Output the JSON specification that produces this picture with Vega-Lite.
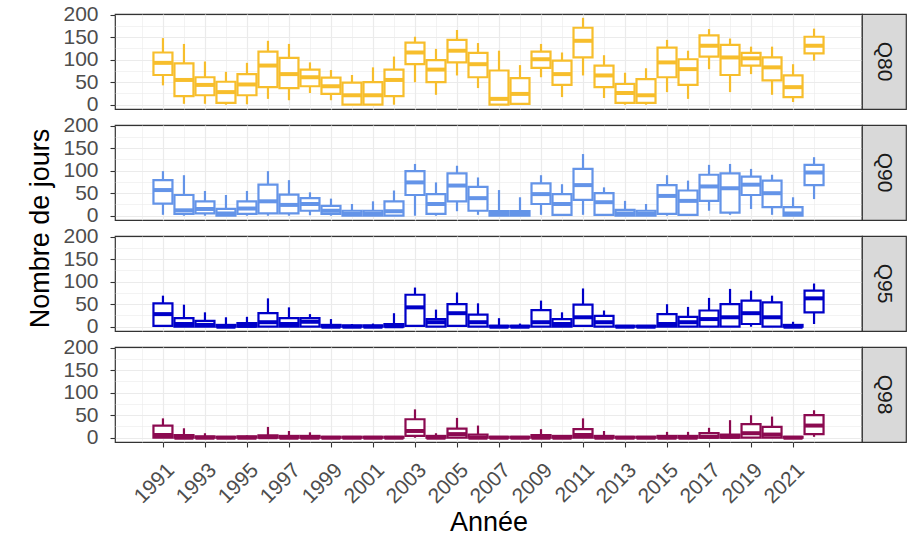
{
  "$schema": "https://vega.github.io/schema/vega-lite/v6.json",
  "padding": {"left": 26, "top": 3, "right": 5, "bottom": 2},
  "datasets": {
    "box": [
      {"q":"Q80","year":1991,"lo":43,"q1":66,"med":93,"q3":116,"hi":148},
      {"q":"Q80","year":1992,"lo":2,"q1":19,"med":55,"q3":92,"hi":135},
      {"q":"Q80","year":1993,"lo":2,"q1":21,"med":44,"q3":61,"hi":96},
      {"q":"Q80","year":1994,"lo":0,"q1":4,"med":28,"q3":51,"hi":73},
      {"q":"Q80","year":1995,"lo":1,"q1":21,"med":45,"q3":68,"hi":93},
      {"q":"Q80","year":1996,"lo":13,"q1":39,"med":87,"q3":118,"hi":142},
      {"q":"Q80","year":1997,"lo":10,"q1":37,"med":68,"q3":104,"hi":135},
      {"q":"Q80","year":1998,"lo":26,"q1":41,"med":61,"q3":78,"hi":94},
      {"q":"Q80","year":1999,"lo":10,"q1":24,"med":41,"q3":60,"hi":77},
      {"q":"Q80","year":2000,"lo":0,"q1":0,"med":21,"q3":49,"hi":66},
      {"q":"Q80","year":2001,"lo":0,"q1":0,"med":21,"q3":50,"hi":83},
      {"q":"Q80","year":2002,"lo":0,"q1":19,"med":55,"q3":78,"hi":107},
      {"q":"Q80","year":2003,"lo":50,"q1":90,"med":116,"q3":138,"hi":151},
      {"q":"Q80","year":2004,"lo":22,"q1":50,"med":78,"q3":99,"hi":124},
      {"q":"Q80","year":2005,"lo":65,"q1":94,"med":120,"q3":144,"hi":166},
      {"q":"Q80","year":2006,"lo":37,"q1":61,"med":90,"q3":115,"hi":137},
      {"q":"Q80","year":2007,"lo":0,"q1":0,"med":13,"q3":76,"hi":120},
      {"q":"Q80","year":2008,"lo":0,"q1":2,"med":24,"q3":59,"hi":88},
      {"q":"Q80","year":2009,"lo":61,"q1":82,"med":101,"q3":118,"hi":135},
      {"q":"Q80","year":2010,"lo":17,"q1":44,"med":68,"q3":98,"hi":116},
      {"q":"Q80","year":2011,"lo":65,"q1":105,"med":142,"q3":171,"hi":193},
      {"q":"Q80","year":2012,"lo":15,"q1":39,"med":65,"q3":87,"hi":110},
      {"q":"Q80","year":2013,"lo":0,"q1":4,"med":26,"q3":46,"hi":71},
      {"q":"Q80","year":2014,"lo":0,"q1":4,"med":21,"q3":57,"hi":81},
      {"q":"Q80","year":2015,"lo":28,"q1":61,"med":94,"q3":127,"hi":144},
      {"q":"Q80","year":2016,"lo":13,"q1":44,"med":79,"q3":101,"hi":120},
      {"q":"Q80","year":2017,"lo":79,"q1":107,"med":131,"q3":154,"hi":168},
      {"q":"Q80","year":2018,"lo":28,"q1":66,"med":105,"q3":133,"hi":147},
      {"q":"Q80","year":2019,"lo":68,"q1":87,"med":103,"q3":115,"hi":129},
      {"q":"Q80","year":2020,"lo":22,"q1":54,"med":83,"q3":105,"hi":129},
      {"q":"Q80","year":2021,"lo":6,"q1":17,"med":39,"q3":65,"hi":90},
      {"q":"Q80","year":2022,"lo":98,"q1":114,"med":131,"q3":151,"hi":169},

      {"q":"Q90","year":1991,"lo":2,"q1":27,"med":57,"q3":79,"hi":99},
      {"q":"Q90","year":1992,"lo":0,"q1":4,"med":12,"q3":46,"hi":90},
      {"q":"Q90","year":1993,"lo":0,"q1":5,"med":15,"q3":32,"hi":55},
      {"q":"Q90","year":1994,"lo":0,"q1":0,"med":5,"q3":15,"hi":46},
      {"q":"Q90","year":1995,"lo":0,"q1":4,"med":16,"q3":32,"hi":55},
      {"q":"Q90","year":1996,"lo":0,"q1":5,"med":32,"q3":69,"hi":99},
      {"q":"Q90","year":1997,"lo":0,"q1":5,"med":24,"q3":47,"hi":79},
      {"q":"Q90","year":1998,"lo":1,"q1":11,"med":26,"q3":39,"hi":52},
      {"q":"Q90","year":1999,"lo":0,"q1":4,"med":11,"q3":22,"hi":38},
      {"q":"Q90","year":2000,"lo":0,"q1":0,"med":4,"q3":11,"hi":26},
      {"q":"Q90","year":2001,"lo":0,"q1":0,"med":4,"q3":11,"hi":32},
      {"q":"Q90","year":2002,"lo":0,"q1":0,"med":10,"q3":32,"hi":56},
      {"q":"Q90","year":2003,"lo":0,"q1":46,"med":74,"q3":99,"hi":115},
      {"q":"Q90","year":2004,"lo":0,"q1":4,"med":26,"q3":48,"hi":74},
      {"q":"Q90","year":2005,"lo":10,"q1":32,"med":67,"q3":94,"hi":111},
      {"q":"Q90","year":2006,"lo":2,"q1":11,"med":39,"q3":64,"hi":85},
      {"q":"Q90","year":2007,"lo":0,"q1":0,"med":4,"q3":10,"hi":57},
      {"q":"Q90","year":2008,"lo":0,"q1":0,"med":4,"q3":10,"hi":41},
      {"q":"Q90","year":2009,"lo":2,"q1":26,"med":48,"q3":72,"hi":90},
      {"q":"Q90","year":2010,"lo":0,"q1":2,"med":26,"q3":48,"hi":70},
      {"q":"Q90","year":2011,"lo":2,"q1":35,"med":68,"q3":104,"hi":137},
      {"q":"Q90","year":2012,"lo":0,"q1":2,"med":30,"q3":50,"hi":63},
      {"q":"Q90","year":2013,"lo":0,"q1":0,"med":5,"q3":13,"hi":33},
      {"q":"Q90","year":2014,"lo":0,"q1":0,"med":4,"q3":11,"hi":26},
      {"q":"Q90","year":2015,"lo":0,"q1":4,"med":44,"q3":68,"hi":90},
      {"q":"Q90","year":2016,"lo":0,"q1":2,"med":33,"q3":56,"hi":78},
      {"q":"Q90","year":2017,"lo":11,"q1":33,"med":65,"q3":91,"hi":113},
      {"q":"Q90","year":2018,"lo":2,"q1":7,"med":61,"q3":94,"hi":115},
      {"q":"Q90","year":2019,"lo":15,"q1":46,"med":69,"q3":87,"hi":104},
      {"q":"Q90","year":2020,"lo":2,"q1":19,"med":50,"q3":78,"hi":91},
      {"q":"Q90","year":2021,"lo":0,"q1":0,"med":5,"q3":19,"hi":41},
      {"q":"Q90","year":2022,"lo":37,"q1":68,"med":96,"q3":113,"hi":130},

      {"q":"Q95","year":1991,"lo":0,"q1":2,"med":28,"q3":52,"hi":69},
      {"q":"Q95","year":1992,"lo":0,"q1":0,"med":6,"q3":19,"hi":49},
      {"q":"Q95","year":1993,"lo":0,"q1":0,"med":4,"q3":13,"hi":32},
      {"q":"Q95","year":1994,"lo":0,"q1":0,"med":0,"q3":4,"hi":21},
      {"q":"Q95","year":1995,"lo":0,"q1":0,"med":2,"q3":8,"hi":22},
      {"q":"Q95","year":1996,"lo":0,"q1":0,"med":10,"q3":30,"hi":63},
      {"q":"Q95","year":1997,"lo":0,"q1":0,"med":6,"q3":19,"hi":43},
      {"q":"Q95","year":1998,"lo":0,"q1":0,"med":11,"q3":19,"hi":28},
      {"q":"Q95","year":1999,"lo":0,"q1":0,"med":0,"q3":4,"hi":17},
      {"q":"Q95","year":2000,"lo":0,"q1":0,"med":0,"q3":3,"hi":6},
      {"q":"Q95","year":2001,"lo":0,"q1":0,"med":0,"q3":3,"hi":7},
      {"q":"Q95","year":2002,"lo":0,"q1":0,"med":1,"q3":6,"hi":30},
      {"q":"Q95","year":2003,"lo":0,"q1":2,"med":43,"q3":71,"hi":87},
      {"q":"Q95","year":2004,"lo":0,"q1":0,"med":10,"q3":17,"hi":38},
      {"q":"Q95","year":2005,"lo":0,"q1":2,"med":30,"q3":50,"hi":76},
      {"q":"Q95","year":2006,"lo":0,"q1":0,"med":10,"q3":27,"hi":52},
      {"q":"Q95","year":2007,"lo":0,"q1":0,"med":0,"q3":2,"hi":19},
      {"q":"Q95","year":2008,"lo":0,"q1":0,"med":0,"q3":2,"hi":7},
      {"q":"Q95","year":2009,"lo":0,"q1":0,"med":10,"q3":37,"hi":58},
      {"q":"Q95","year":2010,"lo":0,"q1":0,"med":6,"q3":17,"hi":32},
      {"q":"Q95","year":2011,"lo":0,"q1":2,"med":21,"q3":49,"hi":85},
      {"q":"Q95","year":2012,"lo":0,"q1":0,"med":10,"q3":24,"hi":36},
      {"q":"Q95","year":2013,"lo":0,"q1":0,"med":0,"q3":2,"hi":3},
      {"q":"Q95","year":2014,"lo":0,"q1":0,"med":0,"q3":2,"hi":3},
      {"q":"Q95","year":2015,"lo":0,"q1":0,"med":6,"q3":28,"hi":50},
      {"q":"Q95","year":2016,"lo":0,"q1":0,"med":10,"q3":22,"hi":44},
      {"q":"Q95","year":2017,"lo":0,"q1":0,"med":17,"q3":36,"hi":64},
      {"q":"Q95","year":2018,"lo":0,"q1":0,"med":21,"q3":50,"hi":84},
      {"q":"Q95","year":2019,"lo":0,"q1":6,"med":30,"q3":58,"hi":80},
      {"q":"Q95","year":2020,"lo":0,"q1":0,"med":21,"q3":54,"hi":69},
      {"q":"Q95","year":2021,"lo":0,"q1":0,"med":0,"q3":4,"hi":11},
      {"q":"Q95","year":2022,"lo":6,"q1":32,"med":63,"q3":80,"hi":96},

      {"q":"Q98","year":1991,"lo":0,"q1":0,"med":6,"q3":27,"hi":43},
      {"q":"Q98","year":1992,"lo":0,"q1":0,"med":0,"q3":6,"hi":21},
      {"q":"Q98","year":1993,"lo":0,"q1":0,"med":0,"q3":3,"hi":10},
      {"q":"Q98","year":1994,"lo":0,"q1":0,"med":0,"q3":2,"hi":3},
      {"q":"Q98","year":1995,"lo":0,"q1":0,"med":0,"q3":3,"hi":5},
      {"q":"Q98","year":1996,"lo":0,"q1":0,"med":1,"q3":5,"hi":24},
      {"q":"Q98","year":1997,"lo":0,"q1":0,"med":0,"q3":4,"hi":15},
      {"q":"Q98","year":1998,"lo":0,"q1":0,"med":0,"q3":4,"hi":12},
      {"q":"Q98","year":1999,"lo":0,"q1":0,"med":0,"q3":2,"hi":3},
      {"q":"Q98","year":2000,"lo":0,"q1":0,"med":0,"q3":2,"hi":2},
      {"q":"Q98","year":2001,"lo":0,"q1":0,"med":0,"q3":2,"hi":2},
      {"q":"Q98","year":2002,"lo":0,"q1":0,"med":0,"q3":2,"hi":2},
      {"q":"Q98","year":2003,"lo":0,"q1":4,"med":15,"q3":41,"hi":63},
      {"q":"Q98","year":2004,"lo":0,"q1":0,"med":0,"q3":4,"hi":10},
      {"q":"Q98","year":2005,"lo":0,"q1":0,"med":8,"q3":20,"hi":44},
      {"q":"Q98","year":2006,"lo":0,"q1":0,"med":0,"q3":7,"hi":27},
      {"q":"Q98","year":2007,"lo":0,"q1":0,"med":0,"q3":2,"hi":3},
      {"q":"Q98","year":2008,"lo":0,"q1":0,"med":0,"q3":2,"hi":3},
      {"q":"Q98","year":2009,"lo":0,"q1":0,"med":0,"q3":6,"hi":19},
      {"q":"Q98","year":2010,"lo":0,"q1":0,"med":0,"q3":4,"hi":6},
      {"q":"Q98","year":2011,"lo":0,"q1":0,"med":6,"q3":19,"hi":43},
      {"q":"Q98","year":2012,"lo":0,"q1":0,"med":0,"q3":4,"hi":15},
      {"q":"Q98","year":2013,"lo":0,"q1":0,"med":0,"q3":2,"hi":2},
      {"q":"Q98","year":2014,"lo":0,"q1":0,"med":0,"q3":2,"hi":2},
      {"q":"Q98","year":2015,"lo":0,"q1":0,"med":0,"q3":4,"hi":13},
      {"q":"Q98","year":2016,"lo":0,"q1":0,"med":0,"q3":4,"hi":13},
      {"q":"Q98","year":2017,"lo":0,"q1":0,"med":2,"q3":10,"hi":22},
      {"q":"Q98","year":2018,"lo":0,"q1":0,"med":2,"q3":7,"hi":39},
      {"q":"Q98","year":2019,"lo":0,"q1":0,"med":10,"q3":30,"hi":50},
      {"q":"Q98","year":2020,"lo":0,"q1":0,"med":7,"q3":24,"hi":47},
      {"q":"Q98","year":2021,"lo":0,"q1":0,"med":0,"q3":2,"hi":2},
      {"q":"Q98","year":2022,"lo":2,"q1":8,"med":27,"q3":50,"hi":61}
    ],
    "strips": [
      {"q":"Q80"},{"q":"Q90"},{"q":"Q95"},{"q":"Q98"}
    ]
  },
  "columns": 2,
  "spacing": {"row": 16, "column": 0},
  "bounds": "flush",
  "concat": [
    {
      "width": 747, "height": 95,
      "data": {"name": "box"},
      "transform": [{"filter": "datum.q == 'Q80'"}],
      "encoding": {
        "x": {"field": "year", "type": "quantitative", "scale": {"domain": [1988.955, 2024.045], "nice": false, "zero": false},
          "axis": {"values": [1990,1991,1992,1993,1994,1995,1996,1997,1998,1999,2000,2001,2002,2003,2004,2005,2006,2007,2008,2009,2010,2011,2012,2013,2014,2015,2016,2017,2018,2019,2020,2021,2022], "labels": false, "ticks": false, "title": null,
            "gridWidth": {"condition": {"test": "datum.value % 2 == 0", "value": 0.6}, "value": 1.2}}}
      },
      "layer": [
        {"mark": {"type": "rule", "color": "#F7BE2C", "strokeWidth": 2.2},
         "encoding": {"y": {"field": "lo", "type": "quantitative", "scale": {"domain": [-9.5, 201.5], "nice": false, "zero": false},
           "axis": {"values": [0,25,50,75,100,125,150,175,200], "labelExpr": "datum.value % 50 == 0 ? datum.label : ''", "tickOpacity": {"condition": {"test": "datum.value % 50 != 0", "value": 0}, "value": 1}, "gridWidth": {"condition": {"test": "datum.value % 50 != 0", "value": 0.6}, "value": 1.2}, "title": null}},
           "y2": {"field": "hi"}}},
        {"mark": {"type": "bar", "fill": "#ffffff", "stroke": "#F7BE2C", "strokeWidth": 2.2, "size": 19},
         "encoding": {"y": {"field": "q1", "type": "quantitative", "scale": {"domain": [-9.5, 201.5], "nice": false, "zero": false},
           "axis": {"values": [0,25,50,75,100,125,150,175,200], "labelExpr": "datum.value % 50 == 0 ? datum.label : ''", "tickOpacity": {"condition": {"test": "datum.value % 50 != 0", "value": 0}, "value": 1}, "gridWidth": {"condition": {"test": "datum.value % 50 != 0", "value": 0.6}, "value": 1.2}, "title": null}},
           "y2": {"field": "q3"}}},
        {"mark": {"type": "tick", "orient": "horizontal", "color": "#F7BE2C", "size": 19, "thickness": 4, "opacity": 1},
         "encoding": {"y": {"field": "med", "type": "quantitative", "scale": {"domain": [-9.5, 201.5], "nice": false, "zero": false},
           "axis": {"values": [0,25,50,75,100,125,150,175,200], "labelExpr": "datum.value % 50 == 0 ? datum.label : ''", "tickOpacity": {"condition": {"test": "datum.value % 50 != 0", "value": 0}, "value": 1}, "gridWidth": {"condition": {"test": "datum.value % 50 != 0", "value": 0.6}, "value": 1.2}, "title": null}}}}
      ]
    },
    {
      "width": 44, "height": 95,
      "view": {"fill": "#D9D9D9", "stroke": "#333333"},
      "data": {"name": "strips"},
      "transform": [{"filter": "datum.q == 'Q80'"}],
      "mark": {"type": "text", "angle": 90, "align": "center", "baseline": "middle", "fontSize": 21, "color": "#1A1A1A", "font": "Liberation Sans"},
      "encoding": {"text": {"field": "q"},
        "x": {"field": "q", "type": "nominal", "axis": null},
        "y": {"field": "q", "type": "nominal", "axis": null}}
    },
    {
      "width": 747, "height": 95,
      "data": {"name": "box"},
      "transform": [{"filter": "datum.q == 'Q90'"}],
      "encoding": {
        "x": {"field": "year", "type": "quantitative", "scale": {"domain": [1988.955, 2024.045], "nice": false, "zero": false},
          "axis": {"values": [1990,1991,1992,1993,1994,1995,1996,1997,1998,1999,2000,2001,2002,2003,2004,2005,2006,2007,2008,2009,2010,2011,2012,2013,2014,2015,2016,2017,2018,2019,2020,2021,2022], "labels": false, "ticks": false, "title": null,
            "gridWidth": {"condition": {"test": "datum.value % 2 == 0", "value": 0.6}, "value": 1.2}}}
      },
      "layer": [
        {"mark": {"type": "rule", "color": "#6494E8", "strokeWidth": 2.2},
         "encoding": {"y": {"field": "lo", "type": "quantitative", "scale": {"domain": [-9.5, 201.5], "nice": false, "zero": false},
           "axis": {"values": [0,25,50,75,100,125,150,175,200], "labelExpr": "datum.value % 50 == 0 ? datum.label : ''", "tickOpacity": {"condition": {"test": "datum.value % 50 != 0", "value": 0}, "value": 1}, "gridWidth": {"condition": {"test": "datum.value % 50 != 0", "value": 0.6}, "value": 1.2}, "title": "Nombre de jours", "titleY": 103}},
           "y2": {"field": "hi"}}},
        {"mark": {"type": "bar", "fill": "#ffffff", "stroke": "#6494E8", "strokeWidth": 2.2, "size": 19},
         "encoding": {"y": {"field": "q1", "type": "quantitative", "scale": {"domain": [-9.5, 201.5], "nice": false, "zero": false},
           "axis": {"values": [0,25,50,75,100,125,150,175,200], "labelExpr": "datum.value % 50 == 0 ? datum.label : ''", "tickOpacity": {"condition": {"test": "datum.value % 50 != 0", "value": 0}, "value": 1}, "gridWidth": {"condition": {"test": "datum.value % 50 != 0", "value": 0.6}, "value": 1.2}, "title": "Nombre de jours", "titleY": 103}},
           "y2": {"field": "q3"}}},
        {"mark": {"type": "tick", "orient": "horizontal", "color": "#6494E8", "size": 19, "thickness": 4, "opacity": 1},
         "encoding": {"y": {"field": "med", "type": "quantitative", "scale": {"domain": [-9.5, 201.5], "nice": false, "zero": false},
           "axis": {"values": [0,25,50,75,100,125,150,175,200], "labelExpr": "datum.value % 50 == 0 ? datum.label : ''", "tickOpacity": {"condition": {"test": "datum.value % 50 != 0", "value": 0}, "value": 1}, "gridWidth": {"condition": {"test": "datum.value % 50 != 0", "value": 0.6}, "value": 1.2}, "title": "Nombre de jours", "titleY": 103}}}}
      ]
    },
    {
      "width": 44, "height": 95,
      "view": {"fill": "#D9D9D9", "stroke": "#333333"},
      "data": {"name": "strips"},
      "transform": [{"filter": "datum.q == 'Q90'"}],
      "mark": {"type": "text", "angle": 90, "align": "center", "baseline": "middle", "fontSize": 21, "color": "#1A1A1A", "font": "Liberation Sans"},
      "encoding": {"text": {"field": "q"},
        "x": {"field": "q", "type": "nominal", "axis": null},
        "y": {"field": "q", "type": "nominal", "axis": null}}
    },
    {
      "width": 747, "height": 95,
      "data": {"name": "box"},
      "transform": [{"filter": "datum.q == 'Q95'"}],
      "encoding": {
        "x": {"field": "year", "type": "quantitative", "scale": {"domain": [1988.955, 2024.045], "nice": false, "zero": false},
          "axis": {"values": [1990,1991,1992,1993,1994,1995,1996,1997,1998,1999,2000,2001,2002,2003,2004,2005,2006,2007,2008,2009,2010,2011,2012,2013,2014,2015,2016,2017,2018,2019,2020,2021,2022], "labels": false, "ticks": false, "title": null,
            "gridWidth": {"condition": {"test": "datum.value % 2 == 0", "value": 0.6}, "value": 1.2}}}
      },
      "layer": [
        {"mark": {"type": "rule", "color": "#0000C8", "strokeWidth": 2.2},
         "encoding": {"y": {"field": "lo", "type": "quantitative", "scale": {"domain": [-9.5, 201.5], "nice": false, "zero": false},
           "axis": {"values": [0,25,50,75,100,125,150,175,200], "labelExpr": "datum.value % 50 == 0 ? datum.label : ''", "tickOpacity": {"condition": {"test": "datum.value % 50 != 0", "value": 0}, "value": 1}, "gridWidth": {"condition": {"test": "datum.value % 50 != 0", "value": 0.6}, "value": 1.2}, "title": null}},
           "y2": {"field": "hi"}}},
        {"mark": {"type": "bar", "fill": "#ffffff", "stroke": "#0000C8", "strokeWidth": 2.2, "size": 19},
         "encoding": {"y": {"field": "q1", "type": "quantitative", "scale": {"domain": [-9.5, 201.5], "nice": false, "zero": false},
           "axis": {"values": [0,25,50,75,100,125,150,175,200], "labelExpr": "datum.value % 50 == 0 ? datum.label : ''", "tickOpacity": {"condition": {"test": "datum.value % 50 != 0", "value": 0}, "value": 1}, "gridWidth": {"condition": {"test": "datum.value % 50 != 0", "value": 0.6}, "value": 1.2}, "title": null}},
           "y2": {"field": "q3"}}},
        {"mark": {"type": "tick", "orient": "horizontal", "color": "#0000C8", "size": 19, "thickness": 4, "opacity": 1},
         "encoding": {"y": {"field": "med", "type": "quantitative", "scale": {"domain": [-9.5, 201.5], "nice": false, "zero": false},
           "axis": {"values": [0,25,50,75,100,125,150,175,200], "labelExpr": "datum.value % 50 == 0 ? datum.label : ''", "tickOpacity": {"condition": {"test": "datum.value % 50 != 0", "value": 0}, "value": 1}, "gridWidth": {"condition": {"test": "datum.value % 50 != 0", "value": 0.6}, "value": 1.2}, "title": null}}}}
      ]
    },
    {
      "width": 44, "height": 95,
      "view": {"fill": "#D9D9D9", "stroke": "#333333"},
      "data": {"name": "strips"},
      "transform": [{"filter": "datum.q == 'Q95'"}],
      "mark": {"type": "text", "angle": 90, "align": "center", "baseline": "middle", "fontSize": 21, "color": "#1A1A1A", "font": "Liberation Sans"},
      "encoding": {"text": {"field": "q"},
        "x": {"field": "q", "type": "nominal", "axis": null},
        "y": {"field": "q", "type": "nominal", "axis": null}}
    },
    {
      "width": 747, "height": 95,
      "data": {"name": "box"},
      "transform": [{"filter": "datum.q == 'Q98'"}],
      "encoding": {
        "x": {"field": "year", "type": "quantitative", "scale": {"domain": [1988.955, 2024.045], "nice": false, "zero": false},
          "axis": {"values": [1990,1991,1992,1993,1994,1995,1996,1997,1998,1999,2000,2001,2002,2003,2004,2005,2006,2007,2008,2009,2010,2011,2012,2013,2014,2015,2016,2017,2018,2019,2020,2021,2022], "format": "d",
            "labelExpr": "datum.value % 2 == 1 ? datum.label : ''", "labelAngle": -45, "labelAlign": "right", "labelBaseline": "top", "labelOverlap": false, "labelFlush": false,
            "tickOpacity": {"condition": {"test": "datum.value % 2 == 0", "value": 0}, "value": 1},
            "title": "Année", "titlePadding": 3,
            "gridWidth": {"condition": {"test": "datum.value % 2 == 0", "value": 0.6}, "value": 1.2}}}
      },
      "layer": [
        {"mark": {"type": "rule", "color": "#8B0A50", "strokeWidth": 2.2},
         "encoding": {"y": {"field": "lo", "type": "quantitative", "scale": {"domain": [-9.5, 201.5], "nice": false, "zero": false},
           "axis": {"values": [0,25,50,75,100,125,150,175,200], "labelExpr": "datum.value % 50 == 0 ? datum.label : ''", "tickOpacity": {"condition": {"test": "datum.value % 50 != 0", "value": 0}, "value": 1}, "gridWidth": {"condition": {"test": "datum.value % 50 != 0", "value": 0.6}, "value": 1.2}, "title": null}},
           "y2": {"field": "hi"}}},
        {"mark": {"type": "bar", "fill": "#ffffff", "stroke": "#8B0A50", "strokeWidth": 2.2, "size": 19},
         "encoding": {"y": {"field": "q1", "type": "quantitative", "scale": {"domain": [-9.5, 201.5], "nice": false, "zero": false},
           "axis": {"values": [0,25,50,75,100,125,150,175,200], "labelExpr": "datum.value % 50 == 0 ? datum.label : ''", "tickOpacity": {"condition": {"test": "datum.value % 50 != 0", "value": 0}, "value": 1}, "gridWidth": {"condition": {"test": "datum.value % 50 != 0", "value": 0.6}, "value": 1.2}, "title": null}},
           "y2": {"field": "q3"}}},
        {"mark": {"type": "tick", "orient": "horizontal", "color": "#8B0A50", "size": 19, "thickness": 4, "opacity": 1},
         "encoding": {"y": {"field": "med", "type": "quantitative", "scale": {"domain": [-9.5, 201.5], "nice": false, "zero": false},
           "axis": {"values": [0,25,50,75,100,125,150,175,200], "labelExpr": "datum.value % 50 == 0 ? datum.label : ''", "tickOpacity": {"condition": {"test": "datum.value % 50 != 0", "value": 0}, "value": 1}, "gridWidth": {"condition": {"test": "datum.value % 50 != 0", "value": 0.6}, "value": 1.2}, "title": null}}}}
      ]
    },
    {
      "width": 44, "height": 95,
      "view": {"fill": "#D9D9D9", "stroke": "#333333"},
      "data": {"name": "strips"},
      "transform": [{"filter": "datum.q == 'Q98'"}],
      "mark": {"type": "text", "angle": 90, "align": "center", "baseline": "middle", "fontSize": 21, "color": "#1A1A1A", "font": "Liberation Sans"},
      "encoding": {"text": {"field": "q"},
        "x": {"field": "q", "type": "nominal", "axis": null},
        "y": {"field": "q", "type": "nominal", "axis": null}}
    }
  ],
  "config": {
    "font": "Liberation Sans",
    "background": "#ffffff",
    "view": {"stroke": "#333333", "strokeWidth": 1.2},
    "axis": {
      "domain": false,
      "gridColor": "#EBEBEB",
      "tickColor": "#333333",
      "tickSize": 5,
      "tickWidth": 1.1,
      "labelColor": "#4D4D4D",
      "labelFont": "Liberation Sans",
      "labelFontSize": 21,
      "labelPadding": 12,
      "titleFont": "Liberation Sans",
      "titleFontSize": 27,
      "titleFontWeight": "normal",
      "titleColor": "#000000",
      "titlePadding": 8
    }
  }
}
